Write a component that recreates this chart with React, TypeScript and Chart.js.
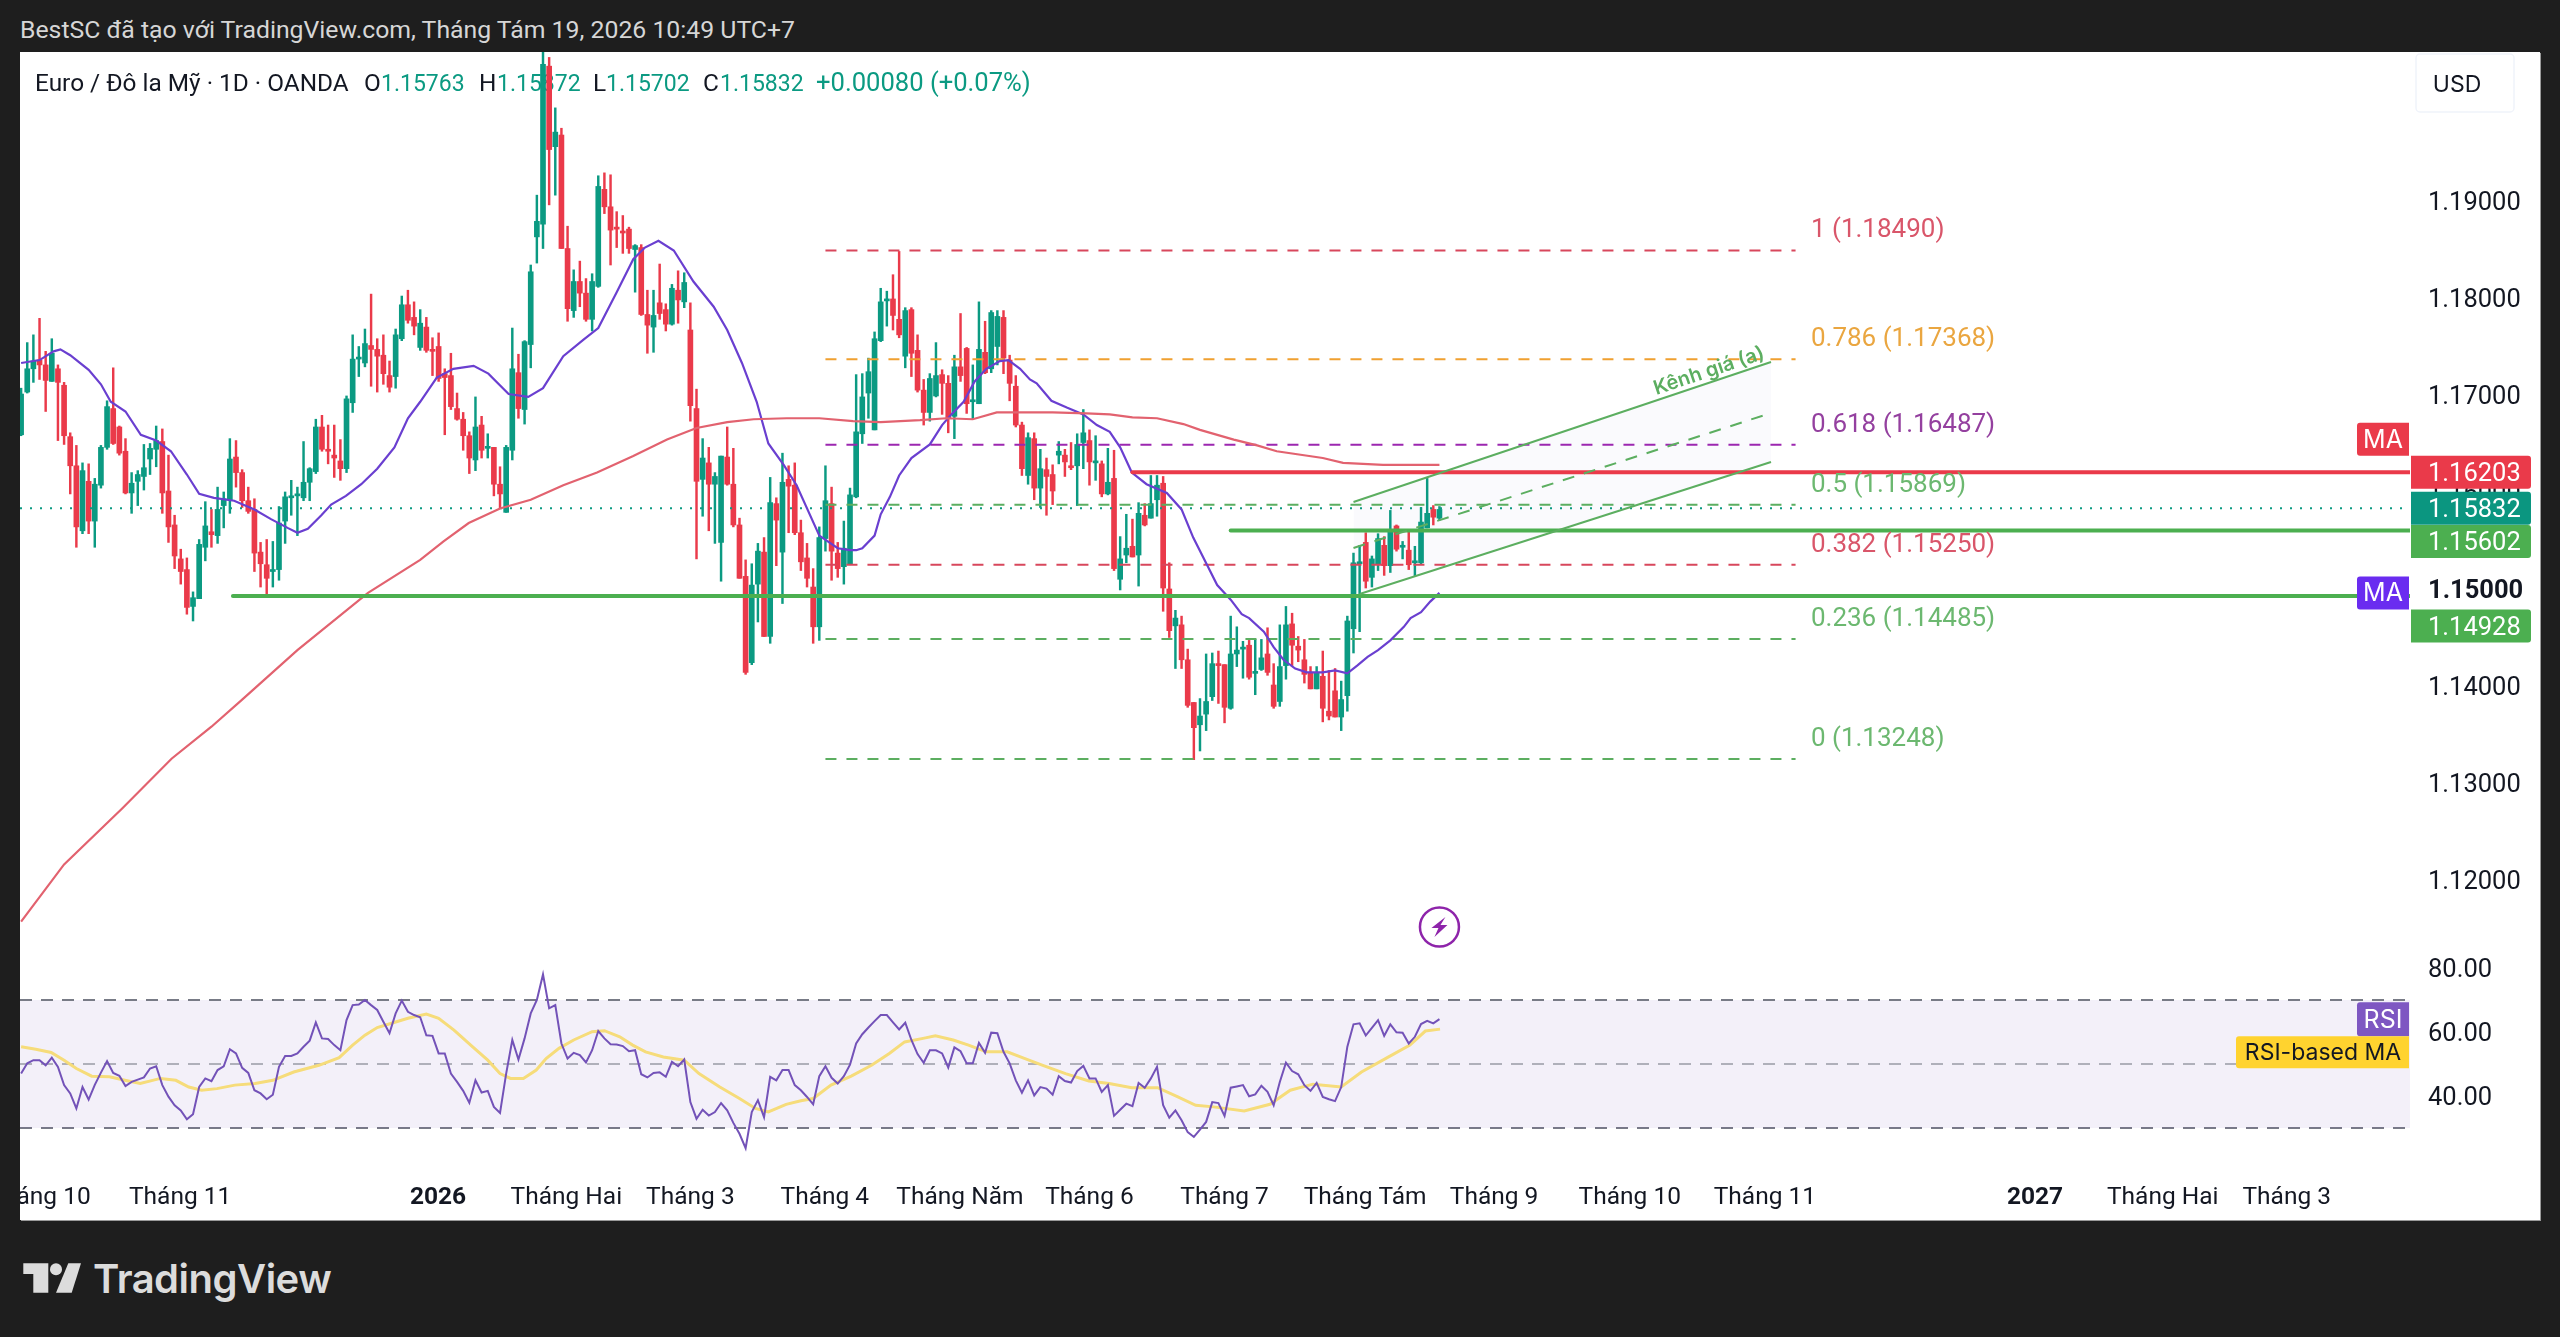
import React, { useEffect, useRef } from "react";
import { Chart, registerables } from "chart.js";

Chart.register(...registerables);

const opens = [1.1659,1.1703,1.1727,1.1736,1.1731,1.1714,1.1727,1.1710,1.1657,1.1627,1.1560,1.1611,1.1570,1.1607,1.1646,1.1686,1.1667,1.1642,1.1599,1.1611,1.1616,1.1634,1.1644,1.1652,1.1601,1.1566,1.1531,1.1520,1.1482,1.1490,1.1543,1.1559,1.1555,1.1586,1.1592,1.1636,1.1620,1.1591,1.1582,1.1538,1.1525,1.1518,1.1520,1.1570,1.1594,1.1596,1.1594,1.1610,1.1621,1.1667,1.1644,1.1638,1.1632,1.1624,1.1692,1.1737,1.1733,1.1751,1.1747,1.1741,1.1720,1.1719,1.1758,1.1793,1.1780,1.1749,1.1770,1.1746,1.1750,1.1722,1.1720,1.1686,1.1675,1.1658,1.1633,1.1669,1.1645,1.1646,1.1608,1.1579,1.1643,1.1723,1.1685,1.1752,1.1863,1.1876,1.2039,1.1956,1.1968,1.1851,1.1787,1.1817,1.1805,1.1778,1.1812,1.1912,1.1894,1.1872,1.1869,1.1871,1.1850,1.1852,1.1783,1.1770,1.1795,1.1788,1.1773,1.1808,1.1796,1.1767,1.1686,1.1613,1.1630,1.1608,1.1548,1.1636,1.1608,1.1566,1.1513,1.1424,1.1505,1.1538,1.1451,1.1588,1.1538,1.1613,1.1607,1.1558,1.1532,1.1502,1.1461,1.1552,1.1588,1.1537,1.1523,1.1526,1.1595,1.1660,1.1702,1.1664,1.1756,1.1797,1.1799,1.1778,1.1740,1.1788,1.1746,1.1705,1.1682,1.1699,1.1721,1.1712,1.1678,1.1729,1.1748,1.1693,1.1691,1.1744,1.1727,1.1750,1.1780,1.1736,1.1709,1.1669,1.1617,1.1655,1.1604,1.1623,1.1618,1.1638,1.1638,1.1627,1.1627,1.1651,1.1653,1.1630,1.1629,1.1598,1.1614,1.1510,1.1535,1.1544,1.1535,1.1576,1.1573,1.1592,1.1609,1.1500,1.1462,1.1463,1.1427,1.1383,1.1360,1.1371,1.1389,1.1423,1.1422,1.1377,1.1433,1.1438,1.1442,1.1413,1.1417,1.1433,1.1401,1.1384,1.1421,1.1464,1.1441,1.1427,1.1413,1.1397,1.1410,1.1374,1.1395,1.1368,1.1390,1.1459,1.1526,1.1548,1.1512,1.1526,1.1545,1.1524,1.1565,1.1543,1.1540,1.1527,1.1527,1.1563,1.1582,1.1573];
const closes = [1.1701,1.1727,1.1735,1.1731,1.1715,1.1743,1.1713,1.1658,1.1627,1.1564,1.1622,1.1570,1.1608,1.1646,1.1688,1.1650,1.1640,1.1599,1.1609,1.1618,1.1625,1.1645,1.1653,1.1599,1.1564,1.1534,1.1518,1.1481,1.1491,1.1546,1.1565,1.1556,1.1582,1.1593,1.1634,1.1620,1.1591,1.1580,1.1537,1.1526,1.1511,1.1520,1.1568,1.1595,1.1596,1.1597,1.1610,1.1624,1.1667,1.1644,1.1642,1.1635,1.1624,1.1696,1.1737,1.1739,1.1753,1.1747,1.1740,1.1722,1.1708,1.1762,1.1793,1.1777,1.1771,1.1774,1.1746,1.1745,1.1717,1.1718,1.1688,1.1675,1.1658,1.1635,1.1667,1.1643,1.1645,1.1608,1.1598,1.1646,1.1727,1.1686,1.1755,1.1827,1.1879,1.2041,1.1953,1.1971,1.1851,1.1789,1.1817,1.1805,1.1778,1.1817,1.1915,1.1894,1.1870,1.1871,1.1867,1.1851,1.1854,1.1783,1.1772,1.1782,1.1784,1.1773,1.1810,1.1798,1.1816,1.1689,1.1611,1.1635,1.1608,1.1616,1.1637,1.1608,1.1566,1.1511,1.1414,1.1504,1.1539,1.1451,1.1589,1.1571,1.1610,1.1606,1.1558,1.1528,1.1511,1.1461,1.1553,1.1591,1.1539,1.1521,1.1542,1.1597,1.1662,1.1698,1.1724,1.1758,1.1796,1.1797,1.1782,1.1762,1.1787,1.1743,1.1705,1.1682,1.1717,1.1720,1.1712,1.1676,1.1729,1.1720,1.1691,1.1693,1.1747,1.1723,1.1785,1.1781,1.1738,1.1712,1.1669,1.1624,1.1656,1.1604,1.1624,1.1616,1.1601,1.1642,1.1631,1.1625,1.1649,1.1661,1.1631,1.1631,1.1598,1.1610,1.1521,1.1531,1.1542,1.1533,1.1578,1.1566,1.1588,1.1607,1.1501,1.1457,1.1470,1.1427,1.1380,1.1357,1.1369,1.1384,1.1423,1.1421,1.1378,1.1433,1.1437,1.1440,1.1409,1.1415,1.1429,1.1414,1.1379,1.1420,1.1463,1.1442,1.1437,1.1412,1.1397,1.1413,1.1377,1.1369,1.1368,1.1386,1.1467,1.1527,1.1527,1.1508,1.1531,1.1552,1.1524,1.1559,1.1541,1.1543,1.1525,1.1528,1.1569,1.1578,1.1574,1.1582];
const highs = [1.1707,1.1754,1.1762,1.1779,1.1745,1.1758,1.1731,1.1713,1.1661,1.1648,1.1630,1.1629,1.1614,1.1648,1.1694,1.1728,1.1668,1.1655,1.1620,1.1622,1.1649,1.1650,1.1668,1.1665,1.1638,1.1576,1.1541,1.1532,1.1497,1.1551,1.1590,1.1582,1.1605,1.1600,1.1655,1.1653,1.1623,1.1605,1.1593,1.1548,1.1551,1.1549,1.1585,1.1600,1.1612,1.1605,1.1652,1.1625,1.1675,1.1679,1.1669,1.1669,1.1654,1.1699,1.1762,1.1750,1.1768,1.1804,1.1758,1.1762,1.1735,1.1768,1.1802,1.1808,1.1796,1.1788,1.1780,1.1759,1.1764,1.1727,1.1743,1.1702,1.1682,1.1662,1.1698,1.1678,1.1660,1.1646,1.1626,1.1648,1.1769,1.1742,1.1756,1.1834,1.1906,1.2054,1.2048,1.1996,1.1975,1.1874,1.1829,1.1838,1.1820,1.1825,1.1926,1.1929,1.1927,1.1889,1.1885,1.1873,1.1855,1.1855,1.1808,1.1808,1.1835,1.1794,1.1814,1.1828,1.1826,1.1795,1.1706,1.1655,1.1646,1.1620,1.1637,1.1667,1.1645,1.1573,1.1530,1.1526,1.1547,1.1553,1.1615,1.1594,1.1640,1.1627,1.1630,1.1571,1.1547,1.1521,1.1564,1.1627,1.1605,1.1548,1.1570,1.1604,1.1721,1.1722,1.1738,1.1765,1.1810,1.1807,1.1824,1.1848,1.1790,1.1790,1.1762,1.1716,1.1722,1.1754,1.1726,1.1720,1.1741,1.1784,1.1749,1.1731,1.1796,1.1776,1.1787,1.1787,1.1787,1.1741,1.1720,1.1672,1.1661,1.1661,1.1644,1.1635,1.1628,1.1652,1.1644,1.1651,1.1660,1.1685,1.1664,1.1658,1.1632,1.1645,1.1643,1.1554,1.1577,1.1572,1.1589,1.1588,1.1617,1.1617,1.1616,1.1527,1.1478,1.1472,1.1438,1.1383,1.1387,1.1433,1.1434,1.1436,1.1422,1.1472,1.1461,1.1446,1.1447,1.1448,1.1448,1.1460,1.1423,1.1463,1.1482,1.1475,1.1451,1.1448,1.1420,1.1420,1.1436,1.1416,1.1418,1.1405,1.1472,1.1537,1.1545,1.1558,1.1534,1.1557,1.1554,1.1581,1.1566,1.1549,1.1559,1.1544,1.1584,1.1614,1.1586,1.1585];
const lows = [1.1658,1.1702,1.1713,1.1716,1.1683,1.1714,1.1653,1.1649,1.1598,1.1543,1.1557,1.1557,1.1543,1.1604,1.1644,1.1649,1.1638,1.1598,1.1578,1.1586,1.1602,1.1618,1.1626,1.1578,1.1548,1.1521,1.1505,1.1474,1.1467,1.1490,1.1529,1.1543,1.1547,1.1563,1.1578,1.1605,1.1584,1.1578,1.1518,1.1502,1.1494,1.1502,1.1509,1.1547,1.1576,1.1555,1.1591,1.1591,1.1619,1.1642,1.1629,1.1615,1.1612,1.1620,1.1682,1.1719,1.1729,1.1709,1.1703,1.1711,1.1703,1.1707,1.1756,1.1774,1.1762,1.1746,1.1744,1.1720,1.1714,1.1659,1.1685,1.1674,1.1643,1.1619,1.1622,1.1635,1.1635,1.1596,1.1583,1.1579,1.1633,1.1676,1.1670,1.1728,1.1836,1.1851,1.1896,1.1906,1.1851,1.1776,1.1780,1.1791,1.1776,1.1766,1.1811,1.1887,1.1834,1.1852,1.1846,1.1846,1.1806,1.1782,1.1743,1.1744,1.1778,1.1766,1.1772,1.1774,1.1790,1.1673,1.1531,1.1575,1.1560,1.1547,1.1508,1.1607,1.1564,1.1511,1.1412,1.1422,1.1466,1.1451,1.1444,1.1524,1.1485,1.1558,1.1556,1.1519,1.1502,1.1444,1.1447,1.1539,1.1509,1.1512,1.1505,1.1525,1.1594,1.1650,1.1676,1.1664,1.1755,1.1771,1.1767,1.1759,1.1728,1.1719,1.1703,1.1669,1.1673,1.1698,1.1680,1.1661,1.1655,1.1714,1.1681,1.1675,1.1691,1.1722,1.1723,1.1731,1.1722,1.1694,1.1667,1.1617,1.1608,1.1592,1.1584,1.1576,1.1587,1.1629,1.1616,1.1623,1.1586,1.1624,1.1607,1.1612,1.1595,1.1597,1.1519,1.1499,1.1527,1.1533,1.1503,1.1565,1.1573,1.1575,1.1477,1.1450,1.1418,1.1418,1.1378,1.1324,1.1333,1.1354,1.1385,1.1382,1.1362,1.1376,1.1420,1.1408,1.1407,1.1391,1.1416,1.1411,1.1377,1.1379,1.1407,1.1421,1.1425,1.1403,1.1397,1.1397,1.1363,1.1365,1.1368,1.1354,1.1374,1.1434,1.1456,1.1501,1.1502,1.1519,1.1514,1.1517,1.1539,1.1531,1.1520,1.1513,1.1526,1.1563,1.1566,1.1571];

const maFastIdx = [0,3,5.3,6.4,8,11,13,14.6,17,19.5,22,24.4,27,29,31.4,34.7,38,40.7,43.4,45,46.7,48.9,50.5,52.9,55.4,58,60.8,63,65,67.7,70.4,73.7,76.1,79.4,82.6,85,88.3,91.6,94,97,99.7,101.6,103.8,106.3,109.5,112.8,115,117.4,119.8,121.7,124.2,126.3,130,133,135,136,137,139,140,141.5,143,145,148,150,151.5,153.5,155.3,157.2,159.4,160.8,162.7,164.3,165.4,167.8,170.3,173,175.2,177.3,179,180.9,183.3,186.6,189,190.9,193.3,194.8,197,198.8,200,202.4,204,205.6,207.5,209.4,212,214,216,217.6,219.3,221,223,225.2,226.3,228,229.5,231];
const maFast = [1.1733,1.1736,1.1745,1.1747,1.1741,1.1726,1.1711,1.1693,1.1683,1.1659,1.1653,1.1642,1.1618,1.1598,1.1594,1.1591,1.1582,1.1572,1.1563,1.1558,1.1562,1.1576,1.1587,1.1596,1.1608,1.1624,1.1646,1.1676,1.1693,1.1718,1.1727,1.1730,1.1722,1.1701,1.1698,1.1707,1.1740,1.1757,1.1769,1.1806,1.1840,1.1852,1.1859,1.1849,1.1817,1.1791,1.1767,1.1733,1.1693,1.1650,1.1628,1.1607,1.1555,1.1542,1.1540,1.1540,1.1542,1.1555,1.1577,1.1595,1.1617,1.1635,1.1649,1.1669,1.1680,1.1693,1.1714,1.1727,1.1735,1.1736,1.1727,1.1716,1.1712,1.1694,1.1687,1.1680,1.1669,1.1662,1.1646,1.1620,1.1608,1.1599,1.1582,1.1553,1.1523,1.1504,1.1489,1.1474,1.1470,1.1456,1.1440,1.1427,1.1418,1.1414,1.1414,1.1416,1.1413,1.1421,1.1430,1.1437,1.1447,1.1461,1.1470,1.1476,1.1487,1.1496];
const maSlowIdx = [0,7,16.5,24.5,31,36,45,56.5,65,68.8,72.9,78,83,88.3,93.8,99.7,105.2,110,115,119.3,124.7,130,135.5,140,146.4,150.7,155,158.9,162.7,168,173.5,177.3,181,185,189.3,192,197.5,201.3,204.5,212,215.3,221.8,226.7,231];
const maSlow = [1.1157,1.1216,1.1274,1.1325,1.1358,1.1386,1.1437,1.1496,1.1530,1.1549,1.1568,1.1583,1.1592,1.1607,1.1620,1.1637,1.1654,1.1666,1.1672,1.1675,1.1676,1.1676,1.1673,1.1672,1.1674,1.1676,1.1675,1.1682,1.1682,1.1682,1.1681,1.1680,1.1677,1.1676,1.1670,1.1664,1.1654,1.1648,1.1642,1.1635,1.1630,1.1628,1.1628,1.1628];

const rsi = [47.0,50.2,51.2,51.2,49.6,52.0,49.1,43.4,40.8,36.1,42.8,38.9,43.5,47.3,50.9,47.2,46.3,43.1,44.4,45.1,45.8,48.6,49.3,43.4,39.8,37.1,35.5,32.7,34.3,42.8,45.5,44.6,48.1,49.3,54.6,53.3,48.8,47.2,41.8,40.8,39.0,40.4,49.1,52.5,52.5,53.3,55.4,57.3,63.0,58.0,57.8,55.9,54.3,63.7,68.4,68.6,70.0,68.4,66.9,63.2,59.6,65.8,69.8,66.3,65.3,64.6,59.0,58.8,53.3,53.3,47.0,44.4,41.6,37.9,44.9,41.1,41.6,36.6,34.7,47.0,57.5,51.4,58.0,65.8,70.0,78.0,67.4,68.4,56.4,51.7,53.5,52.8,50.5,54.3,60.3,58.0,56.2,56.1,55.6,54.0,54.3,46.8,45.8,47.2,47.4,46.0,50.7,49.3,51.4,38.1,32.9,35.7,33.9,35.0,37.8,35.5,31.6,28.2,23.7,35.0,38.7,33.4,46.0,44.9,48.1,48.1,43.4,41.8,39.7,37.4,46.2,49.3,45.7,43.9,46.2,49.8,56.4,59.3,61.4,63.4,65.3,65.3,63.0,60.8,62.9,57.5,53.1,50.4,54.3,54.3,53.3,48.9,55.2,54.0,50.2,50.2,56.6,53.5,59.8,59.6,53.8,50.2,44.9,41.0,44.9,40.2,42.8,42.3,40.4,46.2,44.7,44.2,47.8,49.4,45.5,45.5,41.3,43.4,33.8,35.7,37.6,36.8,44.1,42.6,45.5,49.1,37.1,33.2,35.5,32.4,28.7,27.2,29.5,31.9,38.1,37.8,33.8,42.6,43.0,43.4,39.9,40.5,43.2,41.3,37.1,44.4,50.4,47.8,46.8,43.4,41.6,44.1,39.7,39.0,38.4,42.8,55.4,62.4,62.7,58.9,61.3,63.7,58.8,62.4,59.9,59.8,56.4,58.5,62.5,63.5,62.7,64.0];
const rsiMaIdx = [0,2.4,4.9,7,9,11.5,14.4,16.9,19.4,22.7,25.2,27.3,29.4,31.9,34.8,38.1,41,44.4,48.5,51.8,54,56,58,60.6,63,66,68,70.5,73.5,76,78,79.7,81.8,83.9,85.5,87.6,90,93,95,97.5,99.6,101.7,104.6,108,110.4,113.8,117,119.6,121.7,124.6,127,129,131.9,135.2,138.5,141.4,143.9,146.9,148.9,151.8,154.3,157.2,160.6,163.5,166.4,170.1,173.9,177.2,180.9,185.1,188.4,191.3,194.2,199.2,203.4,206.7,210.4,215,218.3,222.5,226.2,228.7,231.1];
const rsiMa = [55.4,54.6,53.6,51.2,48.6,46.2,46.0,44.9,43.9,45.5,44.9,42.8,41.8,42.3,43.4,43.9,44.9,47.5,49.6,52.0,55.9,59.0,61.4,62.9,64.3,65.6,64.3,60.6,55.4,51.2,47.0,45.5,45.5,48.1,51.7,54.9,57.5,60.1,60.4,58.5,55.9,53.8,52.2,51.2,47.0,42.8,39.2,36.1,35.0,37.4,38.5,39.2,43.4,46.2,49.6,53.3,56.9,58.0,58.8,57.5,55.9,53.8,53.8,51.7,49.6,47.0,44.7,43.9,42.6,42.6,39.7,37.1,36.6,35.3,37.4,41.8,43.7,42.8,47.5,52.0,55.9,60.3,60.9];

const fibRatios = ["1","0.786","0.618","0.5","0.382","0.236","0"];
const fibPrices = [1.1849,1.17368,1.16487,1.15869,1.1525,1.14485,1.13248];
const fibColors = ["#d8475c","#f0a030","#9c27b0","#5cae60","#d8475c","#5cae60","#5cae60"];
const fibTextColors = ["#d9566a","#eaa640","#94409f","#6cb870","#d9566a","#6cb870","#6cb870"];

const monthTickIdx = [3,25.9,67.9,88.8,109,130.9,152.9,174,196,218.9,239.9,262,284,328,348.8,369];
const monthLabels = ["Tháng 10","Tháng 11","2026","Tháng Hai","Tháng 3","Tháng 4","Tháng Năm","Tháng 6","Tháng 7","Tháng Tám","Tháng 9","Tháng 10","Tháng 11","2027","Tháng Hai","Tháng 3"];
const priceTicks = [1.12,1.13,1.14,1.15,1.16,1.17,1.18,1.19];
const rsiTicks = [40,60,80];

const RED = "#ea3a4a", TEAL = "#0b9a82", GREEN = "#4caf50";
const FONT = "Inter, 'Noto Sans', sans-serif";
const NUM = "Roboto, 'Noto Sans', sans-serif";
const X_MIN = -0.18, X_MAX = 389.07;
const idx = opens.map((_, i) => i);

function pts(xs: number[], ys: number[]) { return xs.map((x, i) => ({ x, y: ys[i] })); }
function seg(x1: number, y1: number, x2: number, y2: number) { return [{ x: x1, y: y1 }, { x: x2, y: y2 }]; }
function line(data: any[], color: string, width: number, extra: any = {}) {
  return { type: "line", data, borderColor: color, borderWidth: width, pointRadius: 0, tension: 0, fill: false, order: 5, yAxisID: "y", xAxisID: "x", ...extra };
}

function roundTag(ctx: CanvasRenderingContext2D, x: number, y: number, w: number, h: number, r: number[], color: string) {
  ctx.fillStyle = color;
  ctx.beginPath();
  (ctx as any).roundRect(x, y, w, h, r);
  ctx.fill();
}

const chartDecor = {
  id: "tvDecor",
  beforeDraw(chart: any) {
    // Roboto digits sit slightly high on a "middle" baseline: nudge the right-axis labels to line up with their levels.
    for (const id of ["y", "yRsi"]) {
      chart.scales[id].getLabelItems().forEach((it: any) => { it.options.translation[1] += 2.5; });
    }
  },
  beforeDatasetsDraw(chart: any) {
    const ctx: CanvasRenderingContext2D = chart.ctx;
    ctx.save();
    ctx.textBaseline = "middle";
    ctx.textAlign = "left";
    const Y = 33;
    ctx.font = `24.4px ${NUM}`;
    const labels: [string, number][] = [["Euro / Đô la Mỹ · 1D · OANDA", 15], ["O", 344], ["H", 459], ["L", 573], ["C", 683]];
    ctx.fillStyle = "#131722";
    for (const [t, x] of labels) ctx.fillText(t, x, Y);
    ctx.font = `23px ${NUM}`;
    ctx.fillStyle = TEAL;
    const values: [string, number][] = [["1.15763", 361], ["1.15872", 477], ["1.15702", 586], ["1.15832", 700]];
    for (const [t, x] of values) ctx.fillText(t, x, Y);
    ctx.font = `25.6px ${NUM}`;
    ctx.fillText("+0.00080 (+0.07%)", 796, Y);
    ctx.restore();
  },
  afterDatasetsDraw(chart: any) {
    const ctx: CanvasRenderingContext2D = chart.ctx;
    const xs = chart.scales.x, ys = chart.scales.y, yr = chart.scales.yRsi;
    const right = chart.chartArea.right;
    ctx.save();
    ctx.textBaseline = "middle";
    // Fibonacci labels
    ctx.font = `26px ${NUM}`;
    ctx.textAlign = "left";
    fibRatios.forEach((r, i) => {
      ctx.fillStyle = fibTextColors[i];
      ctx.fillText(`${r} (${fibPrices[i].toFixed(5)})`, xs.getPixelForValue(291.5), ys.getPixelForValue(fibPrices[i]) - 19.5);
    });
    // Channel label
    ctx.save();
    ctx.translate(xs.getPixelForValue(274.9), ys.getPixelForValue(1.17247));
    ctx.rotate(-18.5 * Math.PI / 180);
    ctx.font = `600 20px ${FONT}`;
    ctx.fillStyle = "#5cae60";
    ctx.textAlign = "center";
    ctx.fillText("Kênh giá (a)", 0, 0);
    ctx.restore();
    // Lightning marker
    const bx = xs.getPixelForValue(231), by = ys.getPixelForValue(1.11515);
    ctx.strokeStyle = "#8e24aa"; ctx.lineWidth = 2.5;
    ctx.beginPath(); ctx.arc(bx, by, 19.5, 0, Math.PI * 2); ctx.stroke();
    ctx.fillStyle = "#8e24aa";
    ctx.beginPath();
    [[6, -10], [-8, 1], [-1, 1], [-5, 10], [8, -2], [1, -2]].forEach(([a, b], i) => i ? ctx.lineTo(bx + a, by + b) : ctx.moveTo(bx + a, by + b));
    ctx.closePath(); ctx.fill();
    // Price tags on the axis
    ctx.font = `25.5px ${NUM}`;
    ctx.textAlign = "left";
    const tags: [number, number, string][] = [[1.16203, 0, RED], [1.15832, 0, "#0b9680"], [1.15602, 11, GREEN], [1.14928, 30, GREEN]];
    for (const [p, off, c] of tags) {
      const cy = ys.getPixelForValue(p) + off;
      roundTag(ctx, right + 1, cy - 16.5, 120, 33, [0, 3, 3, 0], c);
      ctx.fillStyle = "#fff";
      ctx.fillText(p.toFixed(5), right + 18, cy + 2.5);
    }
    // Indicator tags
    ctx.textAlign = "center";
    ctx.font = `25px ${FONT}`;
    const ma: [number, string][] = [[ys.getPixelForValue(1.16203) - 33, RED], [ys.getPixelForValue(1.14928) - 3, "#6a2cf0"]];
    for (const [cy, c] of ma) {
      roundTag(ctx, right - 53, cy - 16.5, 52, 33, [3, 0, 0, 3], c);
      ctx.fillStyle = "#fff";
      ctx.fillText("MA", right - 27, cy + 1);
    }
    const rsiY = yr.getPixelForValue(64);
    roundTag(ctx, right - 53, rsiY - 17, 52, 34, [3, 0, 0, 3], "#7e57c2");
    ctx.fillStyle = "#fff";
    ctx.fillText("RSI", right - 27, rsiY + 1);
    const rmaY = yr.getPixelForValue(53.7);
    ctx.font = `23px ${FONT}`;
    roundTag(ctx, right - 174, rmaY - 16, 173, 32, [3, 0, 0, 3], "#ffd32f");
    ctx.fillStyle = "#131722";
    ctx.fillText("RSI-based MA", right - 87, rmaY + 1);
    // Currency box
    ctx.strokeStyle = "#f0f3fa"; ctx.lineWidth = 1.5;
    ctx.beginPath();
    (ctx as any).roundRect(right + 6, 2, 98, 58, 4);
    ctx.stroke();
    ctx.fillStyle = "#131722";
    ctx.font = `23px ${FONT}`;
    ctx.fillText("USD", right + 47, 33);
    ctx.restore();
  },
};

export default function App() {
  const ref = useRef<HTMLCanvasElement>(null);
  useEffect(() => {
    document.body.style.margin = "0";
    document.body.style.background = "#1e1e1e";
    const candleColors = idx.map((i) => (closes[i] >= opens[i] ? TEAL : RED));
    const datasets: any[] = [];
    // RSI band
    datasets.push(line(seg(X_MIN, 70, X_MAX, 70), "#787b86", 2, { yAxisID: "yRsi", borderDash: [12, 9], order: 21, fill: { target: 1 }, backgroundColor: "rgba(126,87,194,0.09)" }));
    datasets.push(line(seg(X_MIN, 30, X_MAX, 30), "#787b86", 2, { yAxisID: "yRsi", borderDash: [12, 9], order: 21 }));
    datasets.push(line(seg(X_MIN, 50, X_MAX, 50), "rgba(120,123,134,0.55)", 2, { yAxisID: "yRsi", borderDash: [12, 9], order: 20 }));
    // Channel shade
    const chanTop = datasets.length;
    datasets.push(line(seg(217, 1.15897, 285, 1.1734), "rgba(0,0,0,0)", 0, { order: 30, fill: { target: chanTop + 1 }, backgroundColor: "rgba(120,123,200,0.04)" }));
    datasets.push(line(seg(217, 1.14948, 285, 1.16309), "rgba(0,0,0,0)", 0, { order: 30 }));
    // Candles
    datasets.push({ type: "bar", data: idx.map((i) => ({ x: i, y: [lows[i], highs[i]] })), backgroundColor: candleColors, barThickness: 1.8, grouped: false, borderWidth: 0, order: 11, yAxisID: "y", xAxisID: "x" });
    datasets.push({ type: "bar", data: idx.map((i) => ({ x: i, y: [Math.min(opens[i], closes[i]), Math.max(opens[i], closes[i])] })), backgroundColor: candleColors, barThickness: 5, grouped: false, borderWidth: 0, minBarLength: 2, order: 10, yAxisID: "y", xAxisID: "x" });
    // Last price
    datasets.push(line(seg(X_MIN, 1.15832, X_MAX, 1.15832), TEAL, 2, { borderDash: [2, 8], order: 9 }));
    // Fibonacci levels
    fibPrices.forEach((p, i) => datasets.push(line(seg(131, p, 289, p), fibColors[i], 2, { borderDash: [11, 10], order: 8 })));
    // Moving averages
    datasets.push(line(pts(maSlowIdx, maSlow), "#e2626f", 2.2, { order: 6 }));
    datasets.push(line(pts(maFastIdx, maFast), "#6a3fd0", 2.2, { order: 6 }));
    // Support / resistance lines
    datasets.push(line(seg(181, 1.16203, X_MAX, 1.16203), RED, 4, { order: 4, borderCapStyle: "round" }));
    datasets.push(line(seg(197, 1.15602, X_MAX, 1.15602), GREEN, 4, { order: 4, borderCapStyle: "round" }));
    datasets.push(line(seg(34.5, 1.14928, X_MAX, 1.14928), GREEN, 4, { order: 4, borderCapStyle: "round" }));
    // Channel lines
    datasets.push(line(seg(217, 1.15897, 285, 1.1734), "#5cae60", 2, { order: 3 }));
    datasets.push(line(seg(218, 1.14948, 285, 1.16309), "#5cae60", 2, { order: 3 }));
    datasets.push(line(seg(217, 1.15423, 285, 1.16814), "#5cae60", 2, { order: 3, borderDash: [12, 10] }));
    // RSI lines
    datasets.push(line(pts(rsiMaIdx, rsiMa), "#f6dc7a", 3, { yAxisID: "yRsi", order: 7 }));
    datasets.push(line(pts(idx, rsi), "#7352b8", 2, { yAxisID: "yRsi", order: 6 }));

    const noPad = (s: any) => { s.paddingLeft = 0; s.paddingRight = 0; s.paddingTop = 0; s.paddingBottom = 0; };
    const chart = new Chart(ref.current as HTMLCanvasElement, {
      type: "bar",
      data: { datasets },
      plugins: [chartDecor],
      options: {
        responsive: false,
        animation: false,
        devicePixelRatio: 1,
        events: [],
        layout: { padding: 0 },
        plugins: { legend: { display: false }, tooltip: { enabled: false }, title: { display: false } },
        scales: {
          x: {
            type: "linear", position: "bottom", offset: false, min: X_MIN, max: X_MAX,
            grid: { display: false }, border: { display: false },
            afterBuildTicks: (s: any) => { s.ticks = monthTickIdx.map((value) => ({ value })); },
            afterFit: (s: any) => { s.height = 60; noPad(s); },
            ticks: {
              autoSkip: false, maxRotation: 0, minRotation: 0, padding: 15, color: "#131722",
              callback: (v: any) => monthLabels[monthTickIdx.indexOf(v)],
              font: (c: any) => ({ family: NUM, size: 24.5, weight: c.tick && (c.tick.value === 67.9 || c.tick.value === 328) ? "700" : "400" }),
            },
          },
          y: {
            type: "linear", position: "right", stack: "panes", stackWeight: 898, weight: 1, min: 1.11278, max: 1.20536, offset: false,
            grid: { display: false }, border: { display: false },
            afterBuildTicks: (s: any) => { s.ticks = priceTicks.map((value) => ({ value })); },
            afterFit: (s: any) => { s.width = 130; noPad(s); },
            ticks: {
              autoSkip: false, padding: 10, color: "#131722",
              callback: (v: any) => Number(v).toFixed(5),
              font: (c: any) => ({ family: NUM, size: 25.5, weight: c.tick && c.tick.value === 1.15 ? "700" : "400" }),
            },
          },
          yRsi: {
            type: "linear", axis: "y", position: "right", stack: "panes", stackWeight: 210, weight: 2, min: 20, max: 85.625, offset: false,
            grid: { display: false }, border: { display: false },
            afterBuildTicks: (s: any) => { s.ticks = rsiTicks.map((value) => ({ value })); },
            afterFit: (s: any) => { s.width = 130; noPad(s); },
            ticks: {
              autoSkip: false, padding: 10, color: "#131722",
              callback: (v: any) => Number(v).toFixed(2),
              font: { family: NUM, size: 25.5 },
            },
          },
        },
      } as any,
    } as any);
    return () => chart.destroy();
  }, []);

  return (
    <div style={{ position: "relative", width: 2560, height: 1337, background: "#1e1e1e", overflow: "hidden", fontFamily: FONT }}>
      <div style={{ position: "absolute", left: 20, top: 16, color: "#d6d6d6", fontFamily: NUM, fontSize: 24.8, lineHeight: "28px", whiteSpace: "nowrap" }}>
        BestSC đã tạo với TradingView.com, Tháng Tám 19, 2026 10:49 UTC+7
      </div>
      <canvas ref={ref} width={2520} height={1168} style={{ position: "absolute", left: 20, top: 52, width: 2520, height: 1168, background: "#fff", boxShadow: "1px 1px 0 #9a9a9a" }} />
      <svg style={{ position: "absolute", left: 22, top: 1262 }} width={60} height={32} viewBox="0 0 60 32">
        <path d="M1.3 1.3H26.3V30.7H11.3V12H1.3Z" fill="#dcdcdc" />
        <path d="M46.3 1.3H59L49.7 30.7H34Z" fill="#dcdcdc" />
        <circle cx="34" cy="7.3" r="6" fill="#dcdcdc" />
      </svg>
      <div style={{ position: "absolute", left: 93, top: 1254, color: "#dcdcdc", fontSize: 40, fontWeight: 600, lineHeight: "50px", whiteSpace: "nowrap", letterSpacing: -0.5 }}>
        TradingView
      </div>
    </div>
  );
}
